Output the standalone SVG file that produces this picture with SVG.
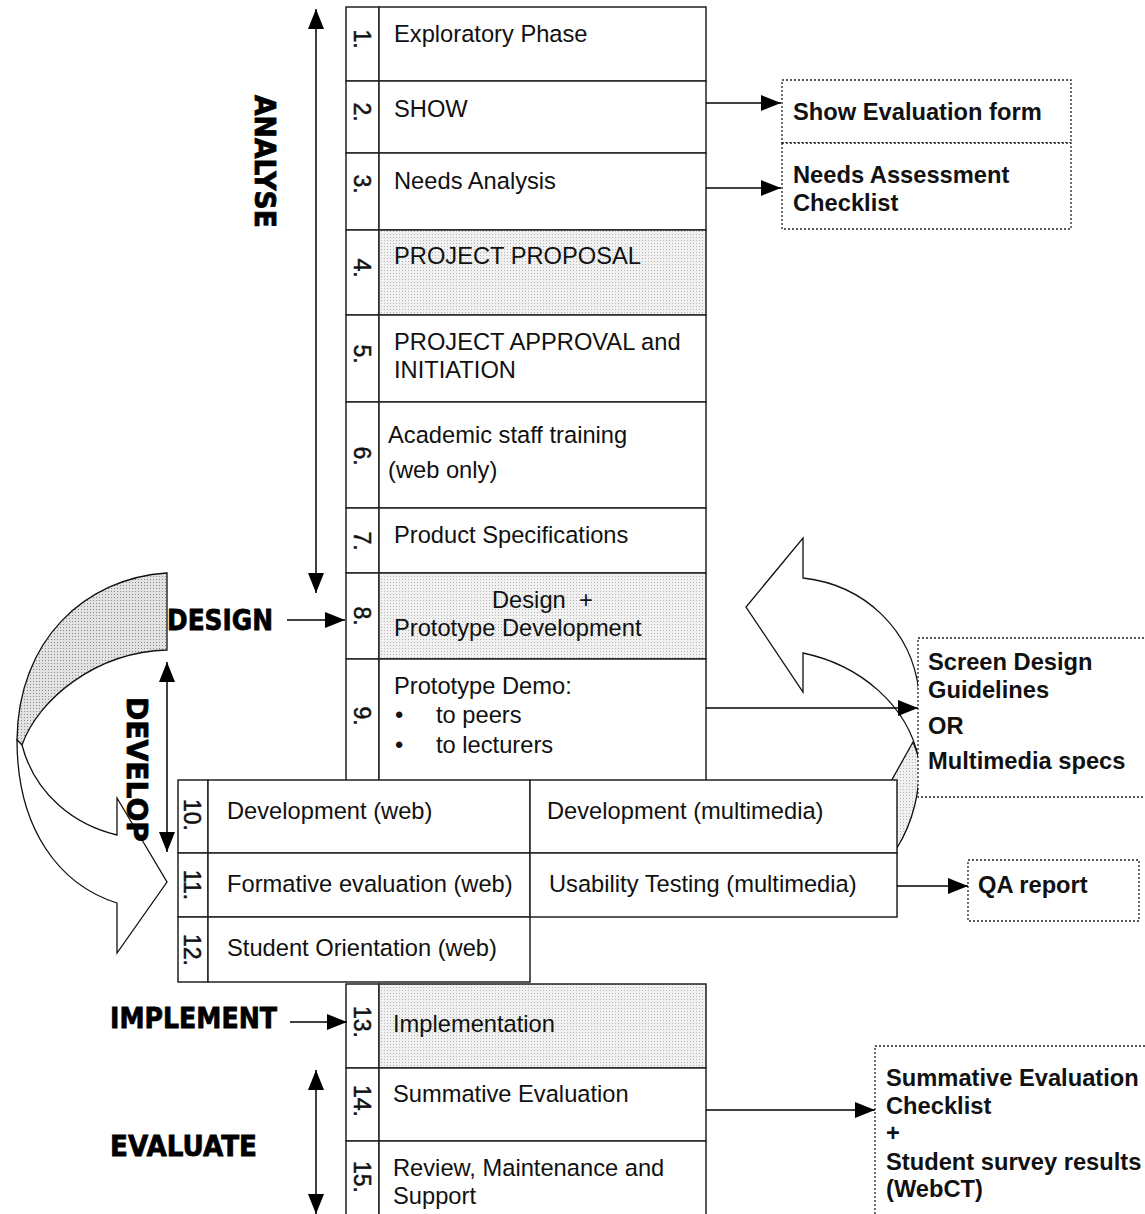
<svg xmlns="http://www.w3.org/2000/svg" width="1145" height="1214" viewBox="0 0 1145 1214">
<style>
  .cell{fill:#fff;stroke:#222;stroke-width:1.5}
  .shade{fill:url(#dots);stroke:#222;stroke-width:1.5}
  .out{fill:#fff;stroke:#222;stroke-width:1.3;stroke-dasharray:2 2}
  .t{font-family:"Liberation Sans",Arial,sans-serif;font-size:23.7px;fill:#111}
  .b{font-family:"Liberation Sans",Arial,sans-serif;font-size:23.7px;font-weight:bold;fill:#111}
  .n{font-family:"Liberation Sans",Arial,sans-serif;font-size:23px;fill:#111;stroke:#111;stroke-width:0.5}
  .h{font-family:"DejaVu Sans",sans-serif;font-size:29px;font-weight:bold;fill:#000;stroke:#000;stroke-width:0.8}
  .ln{stroke:#000;stroke-width:1.5;fill:none}
  .cv{stroke:#111;stroke-width:1.3}
</style>
<defs>
  <pattern id="dots" width="3" height="3" patternUnits="userSpaceOnUse">
    <rect width="3" height="3" fill="#f1f1f1"/><rect width="1" height="1" fill="#b5b5b5"/>
  </pattern>
  <pattern id="dots2" width="3" height="3" patternUnits="userSpaceOnUse">
    <rect width="3" height="3" fill="#e2e2e2"/><rect width="1" height="1" fill="#8a8a8a"/>
  </pattern>
  <marker id="ah" viewBox="0 0 20 16" refX="20" refY="8" markerWidth="20" markerHeight="16" markerUnits="userSpaceOnUse" orient="auto-start-reverse">
    <path d="M0,0 L20,8 L0,16 z" fill="#000"/>
  </marker>
</defs>
<rect width="1145" height="1214" fill="#fff"/>

<g id="connectors">
  <g id="loop-left">
    <path class="cv" fill="url(#dots2)" d="M167,573 C85,578 18,640 17,740 L22,745 C38,700 95,652 167,650 Z"/>
    <path class="cv" fill="#fff" d="M17,740 C17,830 60,885 117,903 L117,953 L167,882 L117,798 L117,835 C75,825 35,795 22,745 Z"/>
  </g>
  <g id="loop-right">
    <path class="cv" fill="url(#dots)" d="M913,742 L889,785 L897,848 C913,822 921,790 919,758 Z"/>
    <path class="cv" fill="#fff" d="M919,692 C912,630 865,585 803,578 L803,538 L746,607 L803,692 L803,653 C860,665 908,705 919,760 Z"/>
  </g>
</g>

<g id="main-column">
  <g id="row1"><rect class="cell" x="346" y="7" width="33" height="74"/><rect class="cell" x="379" y="7" width="327" height="74"/></g>
  <g id="row2"><rect class="cell" x="346" y="81" width="33" height="72"/><rect class="cell" x="379" y="81" width="327" height="72"/></g>
  <g id="row3"><rect class="cell" x="346" y="153" width="33" height="77"/><rect class="cell" x="379" y="153" width="327" height="77"/></g>
  <g id="row4"><rect class="cell" x="346" y="230" width="33" height="85"/><rect class="shade" x="379" y="230" width="327" height="85"/></g>
  <g id="row5"><rect class="cell" x="346" y="315" width="33" height="87"/><rect class="cell" x="379" y="315" width="327" height="87"/></g>
  <g id="row6"><rect class="cell" x="346" y="402" width="33" height="106"/><rect class="cell" x="379" y="402" width="327" height="106"/></g>
  <g id="row7"><rect class="cell" x="346" y="508" width="33" height="65"/><rect class="cell" x="379" y="508" width="327" height="65"/></g>
  <g id="row8"><rect class="cell" x="346" y="573" width="33" height="86"/><rect class="shade" x="379" y="573" width="327" height="86"/></g>
  <g id="row9"><rect class="cell" x="346" y="659" width="33" height="130"/><rect class="cell" x="379" y="659" width="327" height="130"/></g>
</g>

<g id="dev-block">
  <rect class="cell" x="178" y="780" width="30" height="73"/><rect class="cell" x="208" y="780" width="322" height="73"/>
  <rect class="cell" x="530" y="780" width="367" height="73"/>
  <rect class="cell" x="178" y="853" width="30" height="64"/><rect class="cell" x="208" y="853" width="322" height="64"/>
  <rect class="cell" x="530" y="853" width="367" height="64"/>
  <rect class="cell" x="178" y="917" width="30" height="65"/><rect class="cell" x="208" y="917" width="322" height="65"/>
</g>

<g id="lower-column">
  <g id="row13"><rect class="cell" x="346" y="984" width="33" height="84"/><rect class="shade" x="379" y="984" width="327" height="84"/></g>
  <g id="row14"><rect class="cell" x="346" y="1068" width="33" height="73"/><rect class="cell" x="379" y="1068" width="327" height="73"/></g>
  <g id="row15"><rect class="cell" x="346" y="1141" width="33" height="80"/><rect class="cell" x="379" y="1141" width="327" height="80"/></g>
</g>

<g id="outputs">
  <g id="show-form"><rect class="out" x="782" y="80" width="289" height="63"/><text class="b" x="793" y="120">Show Evaluation form</text></g>
  <g id="needs-checklist"><rect class="out" x="782" y="143" width="289" height="86"/><text class="b" x="793" y="183">Needs Assessment</text><text class="b" x="793" y="211">Checklist</text></g>
  <g id="screen-design"><rect class="out" x="918" y="638" width="235" height="159"/>
    <text class="b" x="928" y="670">Screen Design</text><text class="b" x="928" y="698">Guidelines</text>
    <text class="b" x="928" y="734">OR</text><text class="b" x="928" y="769">Multimedia specs</text></g>
  <g id="qa-report"><rect class="out" x="968" y="860" width="171" height="61"/><text class="b" x="978" y="893">QA report</text></g>
  <g id="summative"><rect class="out" x="875" y="1046" width="280" height="180"/>
    <text class="b" x="886" y="1086">Summative Evaluation</text><text class="b" x="886" y="1114">Checklist</text>
    <text class="b" x="886" y="1141">+</text><text class="b" x="886" y="1170">Student survey results</text>
    <text class="b" x="886" y="1197">(WebCT)</text></g>
</g>

<g id="arrows">
  <line class="ln" x1="316" y1="9" x2="316" y2="593" marker-start="url(#ah)" marker-end="url(#ah)"/>
  <line class="ln" x1="167" y1="662" x2="167" y2="852" marker-start="url(#ah)" marker-end="url(#ah)"/>
  <line class="ln" x1="316" y1="1070" x2="316" y2="1214" marker-start="url(#ah)" marker-end="url(#ah)"/>
  <line class="ln" x1="287" y1="620" x2="345" y2="620" marker-end="url(#ah)"/>
  <line class="ln" x1="290" y1="1022" x2="347" y2="1022" marker-end="url(#ah)"/>
  <line class="ln" x1="706" y1="103" x2="781" y2="103" marker-end="url(#ah)"/>
  <line class="ln" x1="706" y1="188" x2="781" y2="188" marker-end="url(#ah)"/>
  <line class="ln" x1="706" y1="708" x2="918" y2="708" marker-end="url(#ah)"/>
  <line class="ln" x1="897" y1="886" x2="968" y2="886" marker-end="url(#ah)"/>
  <line class="ln" x1="706" y1="1110" x2="875" y2="1110" marker-end="url(#ah)"/>
</g>

<g id="step-texts">
  <text class="t" x="394" y="42">Exploratory Phase</text>
  <text class="t" x="394" y="117">SHOW</text>
  <text class="t" x="394" y="189">Needs Analysis</text>
  <text class="t" x="394" y="264">PROJECT PROPOSAL</text>
  <text class="t" x="394" y="350">PROJECT APPROVAL and</text>
  <text class="t" x="394" y="378">INITIATION</text>
  <text class="t" x="388" y="443">Academic staff training</text>
  <text class="t" x="388" y="478">(web only)</text>
  <text class="t" x="394" y="543">Product Specifications</text>
  <text class="t" x="492" y="608">Design&#160; +</text>
  <text class="t" x="394" y="636">Prototype Development</text>
  <text class="t" x="394" y="694">Prototype Demo:</text>
  <text class="t" x="395" y="723">•</text><text class="t" x="436" y="723">to peers</text>
  <text class="t" x="395" y="753">•</text><text class="t" x="436" y="753">to lecturers</text>
  <text class="t" x="227" y="819">Development (web)</text>
  <text class="t" x="547" y="819">Development (multimedia)</text>
  <text class="t" x="227" y="892">Formative evaluation (web)</text>
  <text class="t" x="549" y="892">Usability Testing (multimedia)</text>
  <text class="t" x="227" y="956">Student Orientation (web)</text>
  <text class="t" x="393" y="1032">Implementation</text>
  <text class="t" x="393" y="1102">Summative Evaluation</text>
  <text class="t" x="393" y="1176">Review, Maintenance and</text>
  <text class="t" x="393" y="1204">Support</text>
</g>

<g id="numbers" text-anchor="middle">
  <text class="n" transform="translate(362,39) rotate(90)" dominant-baseline="central">1.</text>
  <text class="n" transform="translate(362,112) rotate(90)" dominant-baseline="central">2.</text>
  <text class="n" transform="translate(362,184) rotate(90)" dominant-baseline="central">3.</text>
  <text class="n" transform="translate(362,268) rotate(90)" dominant-baseline="central">4.</text>
  <text class="n" transform="translate(362,354) rotate(90)" dominant-baseline="central">5.</text>
  <text class="n" transform="translate(362,456) rotate(90)" dominant-baseline="central">6.</text>
  <text class="n" transform="translate(362,541) rotate(90)" dominant-baseline="central">7.</text>
  <text class="n" transform="translate(362,616) rotate(90)" dominant-baseline="central">8.</text>
  <text class="n" transform="translate(362,716) rotate(90)" dominant-baseline="central">9.</text>
  <text class="n" transform="translate(192,815) rotate(90)" dominant-baseline="central">10.</text>
  <text class="n" transform="translate(192,885) rotate(90)" dominant-baseline="central">11.</text>
  <text class="n" transform="translate(192,950) rotate(90)" dominant-baseline="central">12.</text>
  <text class="n" transform="translate(362,1022) rotate(90)" dominant-baseline="central">13.</text>
  <text class="n" transform="translate(362,1101) rotate(90)" dominant-baseline="central">14.</text>
  <text class="n" transform="translate(362,1177) rotate(90)" dominant-baseline="central">15.</text>
</g>

<g id="phase-labels">
  <text class="h" transform="translate(255,95) rotate(90)" textLength="133" lengthAdjust="spacingAndGlyphs">ANALYSE</text>
  <text class="h" x="167" y="630" textLength="106" lengthAdjust="spacingAndGlyphs">DESIGN</text>
  <text class="h" transform="translate(127,697) rotate(90)" textLength="145" lengthAdjust="spacingAndGlyphs">DEVELOP</text>
  <text class="h" x="110" y="1028" font-size="28" textLength="167" lengthAdjust="spacingAndGlyphs">IMPLEMENT</text>
  <text class="h" x="110" y="1156" font-size="28" textLength="147" lengthAdjust="spacingAndGlyphs">EVALUATE</text>
</g>
</svg>
